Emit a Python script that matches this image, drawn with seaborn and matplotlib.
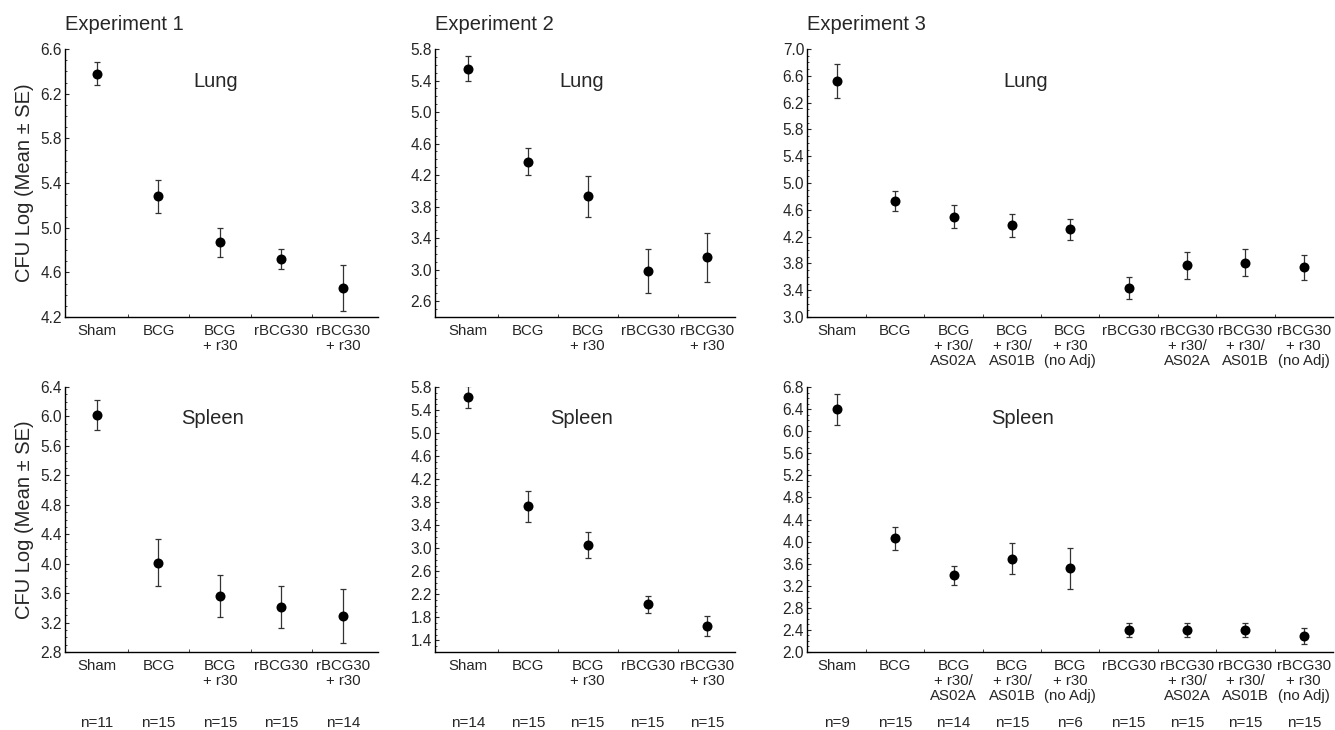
import numpy as np
import matplotlib
matplotlib.use("Agg")
import matplotlib.pyplot as plt
import seaborn as sns
from matplotlib.ticker import MultipleLocator

# ---- data (log10 CFU, mean and SE) ----
exp12_groups = ['Sham', 'BCG', 'BCG\n+ r30', 'rBCG30', 'rBCG30\n+ r30']
exp3_groups = ['Sham', 'BCG', 'BCG\n+ r30/\nAS02A', 'BCG\n+ r30/\nAS01B', 'BCG\n+ r30\n(no Adj)',
               'rBCG30', 'rBCG30\n+ r30/\nAS02A', 'rBCG30\n+ r30/\nAS01B', 'rBCG30\n+ r30\n(no Adj)']

exp1_lung_mean = [6.38, 5.28, 4.87, 4.72, 4.46]
exp1_lung_se = [0.10, 0.15, 0.13, 0.09, 0.21]
exp1_spleen_mean = [6.02, 4.01, 3.56, 3.41, 3.29]
exp1_spleen_se = [0.20, 0.32, 0.29, 0.28, 0.37]
exp1_n = [11, 15, 15, 15, 14]

exp2_lung_mean = [5.55, 4.37, 3.93, 2.98, 3.16]
exp2_lung_se = [0.16, 0.17, 0.26, 0.28, 0.31]
exp2_spleen_mean = [5.62, 3.73, 3.06, 2.03, 1.65]
exp2_spleen_se = [0.19, 0.27, 0.22, 0.15, 0.17]
exp2_n = [14, 15, 15, 15, 15]

exp3_lung_mean = [6.52, 4.73, 4.50, 4.37, 4.31, 3.43, 3.77, 3.81, 3.74]
exp3_lung_se = [0.25, 0.15, 0.17, 0.17, 0.16, 0.16, 0.20, 0.20, 0.19]
exp3_spleen_mean = [6.40, 4.06, 3.39, 3.69, 3.52, 2.40, 2.40, 2.40, 2.29]
exp3_spleen_se = [0.28, 0.21, 0.17, 0.28, 0.37, 0.13, 0.13, 0.13, 0.14]
exp3_n = [9, 15, 14, 15, 6, 15, 15, 15, 15]

sns.set_style('ticks')
plt.rcParams['font.family'] = ['Liberation Sans', 'DejaVu Sans']

W, H = 1335, 730
fig = plt.figure(figsize=(W / 100, H / 100), dpi=100)


def box(x0, x1, y0, y1):
    # pixel box -> figure fraction
    return [x0 / W, 1 - y1 / H, (x1 - x0) / W, (y1 - y0) / H]


def panel(rect, groups, mean, se, ylim, yticks, label, label_x, xlim):
    ax = fig.add_axes(rect)
    sns.scatterplot(x=groups, y=mean, ax=ax, color='black', s=52,
                    edgecolor='black', linewidth=0, zorder=3)
    pos = np.arange(len(groups))
    ax.errorbar(pos, mean, yerr=se, fmt='none', ecolor='#333333',
                elinewidth=0.9, capsize=2.2, capthick=0.9, zorder=2)
    ax.set_xticks(pos)
    ax.set_xticklabels(groups, fontsize=10.8, linespacing=1.08)
    ax.set_xlim(*xlim)
    ax.set_ylim(*ylim)
    ax.set_yticks(yticks)
    ax.set_yticklabels([f'{t:.1f}' for t in yticks], fontsize=11.2)
    ax.yaxis.set_minor_locator(MultipleLocator(0.1))
    ax.set_xticks(pos[:-1] + 0.5, minor=True)
    ax.tick_params(axis='y', which='major', direction='in', length=3, width=0.8, pad=2)
    ax.tick_params(axis='y', which='minor', direction='in', length=1.5, width=0.6)
    ax.tick_params(axis='x', which='major', length=0, pad=5)
    ax.tick_params(axis='x', which='minor', direction='in', length=2.5, width=0.6)
    sns.despine(ax=ax)
    for s in ('left', 'bottom'):
        ax.spines[s].set_linewidth(1.0)
        ax.spines[s].set_color('black')
    ax.set_xlabel('')
    ax.set_ylabel('')
    ax.text(label_x, 0.88, label, transform=ax.transAxes, ha='center',
            va='center', fontsize=14.5)
    return ax


top = (49, 317)
bot = (387, 652)
cols = [(65, 378), (435, 735), (807, 1333)]
xl = [(-0.52, 4.57), (-0.55, 4.46), (-0.51, 8.5)]

rows = [
    ('Lung', top, [
        (exp12_groups, exp1_lung_mean, exp1_lung_se, (4.2, 6.6), np.arange(4.2, 6.61, 0.4), 0.48),
        (exp12_groups, exp2_lung_mean, exp2_lung_se, (2.4, 5.8), np.arange(2.6, 5.81, 0.4), 0.49),
        (exp3_groups, exp3_lung_mean, exp3_lung_se, (3.0, 7.0), np.arange(3.0, 7.01, 0.4), 0.415),
    ]),
    ('Spleen', bot, [
        (exp12_groups, exp1_spleen_mean, exp1_spleen_se, (2.8, 6.4), np.arange(2.8, 6.41, 0.4), 0.47),
        (exp12_groups, exp2_spleen_mean, exp2_spleen_se, (1.2, 5.8), np.arange(1.4, 5.81, 0.4), 0.487),
        (exp3_groups, exp3_spleen_mean, exp3_spleen_se, (2.0, 6.8), np.arange(2.0, 6.81, 0.4), 0.41),
    ]),
]

n_lists = [exp1_n, exp2_n, exp3_n]
titles = ['Experiment 1', 'Experiment 2', 'Experiment 3']

for r, (organ, (y0, y1), specs) in enumerate(rows):
    for c, (groups, mean, se, ylim, yt, lx) in enumerate(specs):
        ax = panel(box(cols[c][0], cols[c][1], y0, y1), groups, mean, se,
                   ylim, yt, organ, lx, xl[c])
        if c == 0:
            ax.set_ylabel('CFU Log (Mean \u00b1 SE)', fontsize=14.5)
            ax.yaxis.set_label_coords(-0.10, 0.5)
        if r == 0:
            ax.text(0.0, 1 + (y0 - 30) / (y1 - y0), titles[c], transform=ax.transAxes,
                    ha='left', va='baseline', fontsize=14.5)
        else:
            for i, n in enumerate(n_lists[c]):
                ax.text(i, -(723 - y1) / (y1 - y0), f'n={n}',
                        transform=ax.get_xaxis_transform(), ha='center',
                        va='center', fontsize=11)

fig.savefig('out.png', dpi=100)
